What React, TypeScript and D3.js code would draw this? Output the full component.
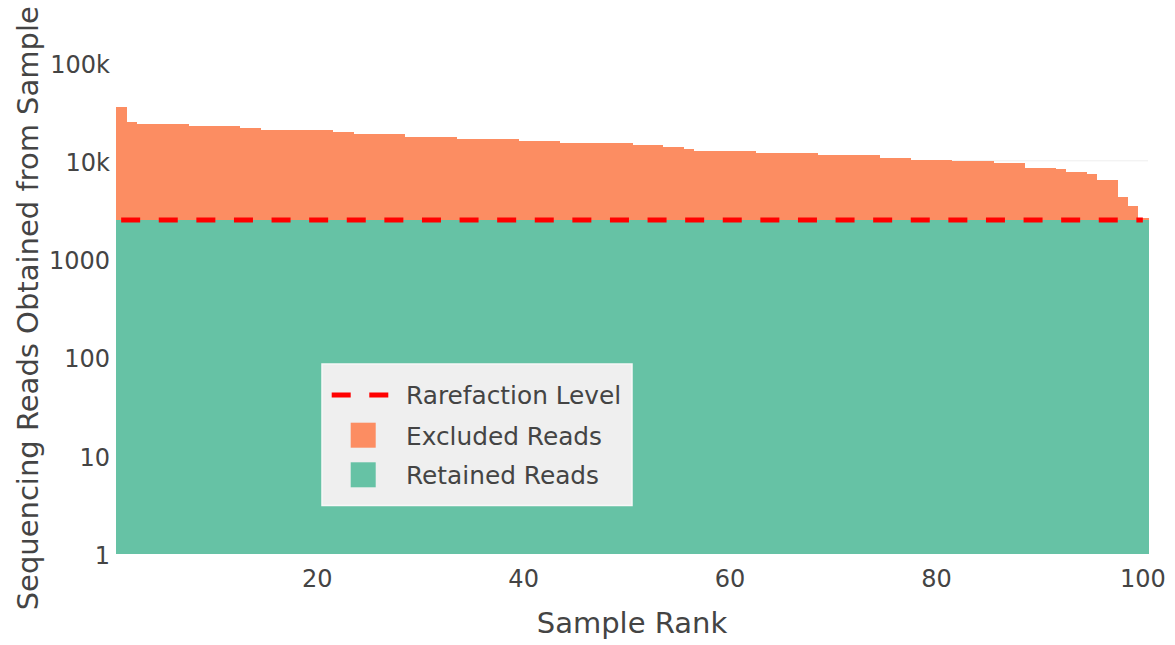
import React from "react";
import * as d3 from "d3";

// ---- data ----
const RAREFACTION_LEVEL = 2500;
const sampleRanks: number[] = d3.range(1, 101);
const totalReads: number[] = [
  35000, 25000,
  23700, 23700, 23700, 23700, 23700,
  22400, 22400, 22400, 22400, 22400,
  21400, 21400,
  20700, 20700, 20700, 20700, 20700, 20700, 20700,
  19500, 19500,
  18600, 18600, 18600, 18600, 18600,
  17600, 17600, 17600, 17600, 17600,
  16800, 16800, 16800, 16800, 16800, 16800,
  16000, 16000, 16000, 16000,
  15200, 15200, 15200, 15200, 15200, 15200, 15200,
  14500, 14500, 14500,
  13700, 13700,
  13100,
  12500, 12500, 12500, 12500, 12500, 12500,
  11900, 11900, 11900, 11900, 11900, 11900,
  11400, 11400, 11400, 11400, 11400, 11400,
  10800, 10800, 10800,
  10300, 10300, 10300, 10300,
  9900, 9900, 9900, 9900,
  9400, 9400, 9400,
  8500, 8500, 8500,
  8200,
  7700, 7700,
  7300,
  6400, 6400,
  4300,
  3500,
  2640,
];
const rarefactionX: number[] = [1, 100];
const yTickValues: number[] = [1, 10, 100, 1000, 10000, 100000];
const yTickLabels: string[] = ["1", "10", "100", "1000", "10k", "100k"];
const xTickValues: number[] = [20, 40, 60, 80, 100];
const legendItems: string[] = ["Rarefaction Level", "Excluded Reads", "Retained Reads"];

// ---- style ----
const W = 1175;
const H = 645;
const PL = 116;
const PR = 1148;
const PT = 62.5;
const PB = 554;
const GREEN = "#66c2a5";
const ORANGE = "#fc8d62";
const TEXT = "#444";
const FONT = "'DejaVu Sans', Verdana, sans-serif";

export default function App() {
  const x = d3.scaleLinear().domain([0.5, 100.5]).range([PL, PR]);
  const y = d3.scaleLog().domain([1, 100000]).range([PB, PT]);

  const rareLine = d3
    .line<number>()
    .x((d) => x(d))
    .y(() => y(RAREFACTION_LEVEL));

  return (
    <svg
      width={W}
      height={H}
      style={{ position: "absolute", left: 0, top: 0, background: "#fff" }}
      fontFamily={FONT}
    >
      {/* gridlines */}
      {yTickValues
        .filter((t) => t > 1 && t < 100000)
        .map((t) => (
          <line key={"g" + t} x1={PL} x2={PR} y1={y(t)} y2={y(t)} stroke="#eeeeee" strokeWidth={1} />
        ))}

      {/* bars */}
      <g shapeRendering="crispEdges">
        {sampleRanks.map((r, i) => {
          const v = totalReads[i];
          const retained = Math.min(v, RAREFACTION_LEVEL);
          const x0 = x(r - 0.5);
          const x1 = x(r + 0.5);
          return (
            <g key={r}>
              <rect x={x0} width={x1 - x0 + 0.5} y={y(retained)} height={y(1) - y(retained)} fill={GREEN} />
              {v > RAREFACTION_LEVEL && (
                <rect x={x0} width={x1 - x0 + 0.5} y={y(v)} height={y(retained) - y(v)} fill={ORANGE} />
              )}
            </g>
          );
        })}
      </g>

      {/* rarefaction line */}
      <path
        d={rareLine(rarefactionX) || ""}
        fill="none"
        stroke="#ff0000"
        strokeWidth={5}
        strokeDasharray="19,18.6"
      />

      {/* y ticks */}
      {yTickValues.map((t, i) => (
        <text key={"yt" + t} x={110} y={y(t)} dy={10} textAnchor="end" fontSize={24} fill={TEXT}>
          {yTickLabels[i]}
        </text>
      ))}

      {/* x ticks */}
      {xTickValues.map((t) => (
        <text key={"xt" + t} x={x(t)} y={587} textAnchor="middle" fontSize={24} fill={TEXT}>
          {t}
        </text>
      ))}

      {/* axis titles */}
      <text x={(PL + PR) / 2} y={633} textAnchor="middle" fontSize={29} fill={TEXT}>
        Sample Rank
      </text>
      <text
        transform={`translate(38,${(PT + PB) / 2}) rotate(-90)`}
        textAnchor="middle"
        fontSize={29}
        fill={TEXT}
      >
        Sequencing Reads Obtained from Sample
      </text>

      {/* legend */}
      <g>
        <rect x={322} y={364} width={310} height={141.5} fill="#efefef" stroke="#f8f8f8" strokeWidth={1.5} />
        <line x1={331.7} x2={388.3} y1={395} y2={395} stroke="#ff0000" strokeWidth={5} strokeDasharray="19,18.6" />
        <rect x={350.7} y={422.7} width={25} height={25} fill={ORANGE} />
        <rect x={350.7} y={462.3} width={25} height={25} fill={GREEN} />
        {legendItems.map((label, i) => (
          <text key={label} x={406} y={[395, 436, 475][i]} dy={9} fontSize={24.8} fill={TEXT}>
            {label}
          </text>
        ))}
      </g>
    </svg>
  );
}
